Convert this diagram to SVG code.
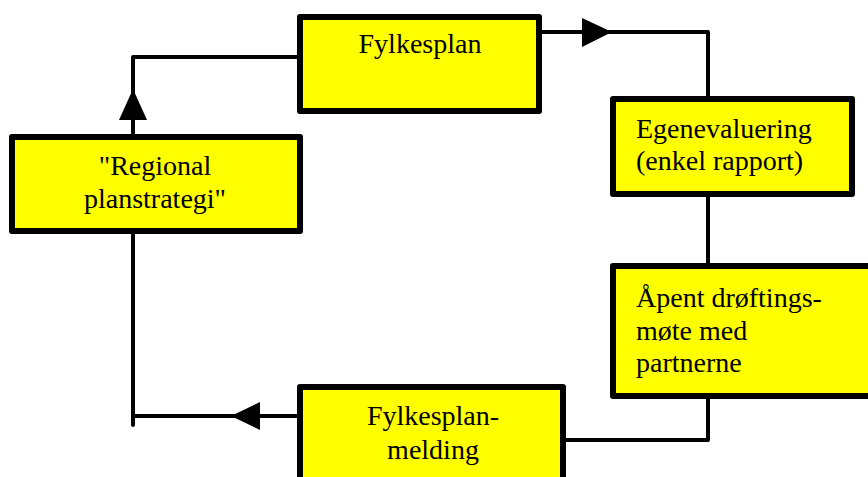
<svg xmlns="http://www.w3.org/2000/svg" width="868" height="477" viewBox="0 0 868 477">
<style>
.box{fill:#ffff00;stroke:#000;stroke-width:6;stroke-linejoin:round}
.c{fill:none;stroke:#000;stroke-width:4;stroke-linejoin:round;stroke-linecap:round}
.t{font-family:"Liberation Serif","Times New Roman",serif;font-size:28px;fill:#000}
.m{text-anchor:middle}
.ah{fill:#000}
</style>
<rect width="868" height="477" fill="#fff"/>
<g id="connectors">
<polyline class="c" points="542,32 708,32 708,97"/>
<polygon class="ah" points="582,18 612,32 582,47"/>
<line class="c" x1="708" y1="197" x2="708" y2="264"/>
<polyline class="c" points="708,398 708,440 566,440"/>
<polyline class="c" points="297,416 133,416"/>
<polygon class="ah" points="260,402 231,416 260,430"/>
<line class="c" x1="133" y1="234" x2="133" y2="425"/>
<polyline class="c" points="133,134 133,57 297,57"/>
<polygon class="ah" points="119,120 133,89 147,120"/>
</g>
<g id="fylkesplan">
<rect class="box" x="300" y="17" width="239" height="94"/>
<text class="t m" x="420" y="53">Fylkesplan</text>
</g>
<g id="egenevaluering">
<rect class="box" x="613" y="99" width="239" height="95"/>
<text class="t" x="636" y="138">Egenevaluering</text>
<text class="t" x="636" y="170">(enkel rapport)</text>
</g>
<g id="apent">
<rect class="box" x="613" y="266" width="270" height="130"/>
<text class="t" x="636" y="307">Åpent drøftings-</text>
<text class="t" x="636" y="340">møte med</text>
<text class="t" x="636" y="372">partnerne</text>
</g>
<g id="melding">
<rect class="box" x="300" y="387" width="263" height="110"/>
<text class="t m" x="433" y="425">Fylkesplan-</text>
<text class="t m" x="433" y="459">melding</text>
</g>
<g id="regional">
<rect class="box" x="12" y="137" width="288" height="94"/>
<text class="t m" x="155" y="175">"Regional</text>
<text class="t m" x="155" y="208">planstrategi"</text>
</g>
</svg>
